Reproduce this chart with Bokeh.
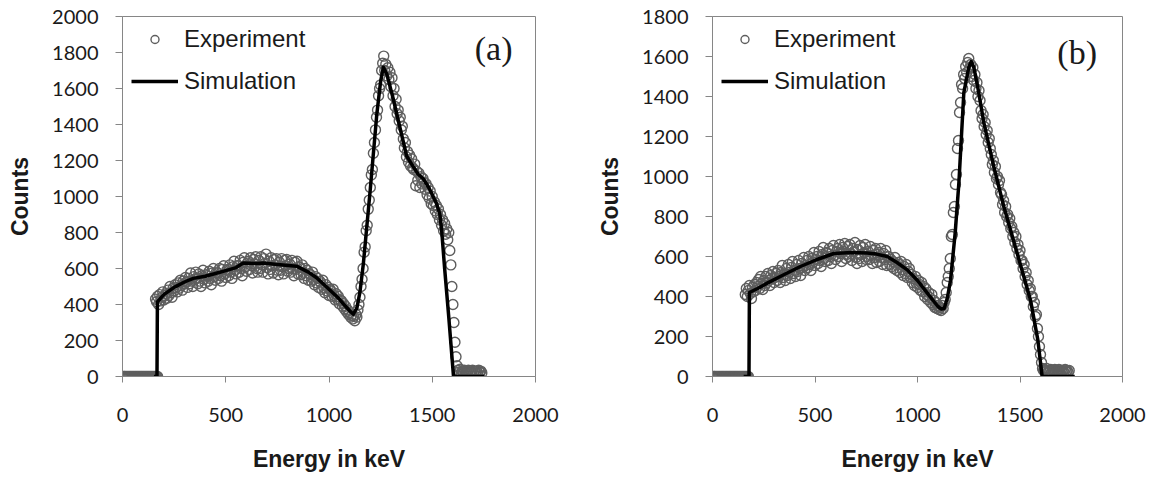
from bokeh.plotting import figure
from bokeh.models import Legend, LegendItem, FixedTicker, Label, Range1d
from bokeh.layouts import row
from bokeh.embed import file_html
from bokeh.resources import INLINE

# ---------------- data (energies in keV, counts) ----------------
STEP = 5

# Panel (a) experiment
exp_a_zero = [0, 0, 0, 0, 0, 0, 0, 0, 0, 0, 0, 0, 0, 0, 0, 0, 0, 0,
              0, 0, 0, 0, 0, 0, 0, 0, 0, 0, 0, 0, 0, 0, 0, 0, 0]          # 0..170 keV
exp_a_main = [                                                            # 160..1615 keV
    430, 415, 445, 400, 455, 420, 440, 470, 425, 450,
    460, 435, 480, 450, 500, 465, 440, 490, 475, 510,
    495, 470, 520, 490, 535, 505, 480, 530, 515, 550,
    525, 495, 545, 515, 575, 530, 500, 555, 540, 580,
    545, 515, 570, 530, 500, 560, 590, 540, 520, 565,
    560, 530, 585, 545, 510, 575, 600, 555, 535, 580,
    575, 545, 600, 560, 530, 595, 615, 570, 550, 590,
    595, 560, 620, 580, 545, 610, 640, 590, 570, 615,
    615, 580, 645, 600, 560, 635, 660, 610, 585, 630,
    640, 595, 660, 615, 575, 650, 625, 665, 600, 580,
    645, 600, 665, 620, 580, 655, 630, 680, 605, 570,
    640, 595, 660, 615, 575, 650, 620, 655, 590, 565,
    635, 590, 655, 610, 570, 645, 615, 650, 585, 600,
    625, 580, 645, 600, 560, 635, 595, 640, 570, 610,
    605, 565, 620, 580, 545, 600, 560, 590, 535, 570,
    565, 530, 580, 540, 510, 555, 520, 545, 495, 530,
    520, 485, 535, 495, 465, 510, 475, 495, 450, 485,
    475, 445, 485, 450, 425, 460, 430, 445, 405, 425,
    420, 390, 405, 375, 390, 360, 370, 345, 355, 330,
    340, 320, 335, 310, 345, 330, 370, 400, 440, 500,
    540, 600, 690, 720, 810, 840, 930, 980, 1050, 1120,
    1150, 1240, 1300, 1370, 1440, 1480, 1560, 1600, 1620, 1700,
    1740, 1780, 1700, 1735, 1670, 1715, 1650, 1690, 1610, 1660,
    1560, 1600, 1500, 1540, 1460, 1480, 1420, 1440, 1370, 1390,
    1320, 1270, 1300, 1220, 1250, 1190, 1230, 1170, 1210, 1160,
    1150, 1180, 1060, 1140, 1090, 1130, 1050, 1110, 1070, 1100,
    1080, 1040, 1070, 1010, 1050, 990, 1030, 960, 1000, 950,
    970, 920, 950, 900, 930, 870, 900, 840, 870, 810,
    850, 790, 820, 760, 800, 700, 620, 500, 400, 300,
    190, 110,
]
exp_a_tail = [60, 35, 25, 40, 20, 30, 25, 35, 20, 30, 25, 35, 20,
              30, 25, 35, 20, 30, 25, 30, 20, 35, 25, 30, 20]            # 1620..1740 keV

# Panel (a) simulation
sim_a_energy = [152, 167, 169, 200, 250, 300, 343, 400, 450, 500, 550, 585, 650, 682,
                750, 843, 900, 940, 1000, 1050, 1080, 1100, 1118, 1135, 1150, 1166,
                1199, 1231, 1250, 1263, 1280, 1311, 1340, 1376, 1400, 1431, 1457,
                1485, 1521, 1537, 1545, 1560, 1580, 1603, 1753]
sim_a_counts = [0, 0, 415, 455, 495, 525, 545, 557, 572, 588, 605, 630, 628, 630,
                622, 613, 580, 549, 485, 430, 390, 365, 346, 380, 470, 623,
                1028, 1451, 1640, 1718, 1680, 1543, 1400, 1225, 1180, 1125, 1098,
                1046, 960, 900, 820, 600, 330, 0, 0]

# Panel (b) experiment
exp_b_zero = [0, 0, 0, 0, 0, 0, 0, 0, 0, 0, 0, 0, 0, 0, 0, 0, 0, 0,
              0, 0, 0, 0, 0, 0, 0, 0, 0, 0, 0, 0, 0, 0, 0, 0, 0, 0]       # 0..175 keV
exp_b_main = [                                                            # 160..1615 keV
    410, 440, 400, 430, 455, 415, 390, 445, 425, 460,
    430, 470, 450, 485, 440, 500, 465, 435, 480, 455,
    500, 470, 515, 480, 455, 505, 490, 525, 470, 495,
    515, 480, 530, 500, 470, 520, 555, 495, 510, 480,
    540, 505, 560, 520, 490, 545, 575, 515, 530, 500,
    560, 525, 580, 540, 505, 565, 545, 595, 530, 555,
    580, 545, 600, 560, 530, 590, 570, 620, 555, 585,
    600, 565, 625, 580, 550, 610, 645, 590, 575, 620,
    615, 580, 640, 600, 565, 630, 655, 605, 585, 625,
    640, 600, 660, 615, 575, 645, 625, 665, 590, 610,
    650, 600, 660, 615, 580, 640, 625, 670, 595, 565,
    635, 590, 655, 610, 575, 645, 620, 660, 585, 600,
    625, 585, 650, 605, 565, 630, 595, 640, 570, 610,
    620, 575, 640, 595, 560, 615, 585, 630, 555, 600,
    600, 560, 585, 550, 575, 540, 595, 560, 530, 570,
    560, 520, 575, 535, 505, 550, 515, 560, 495, 525,
    540, 495, 510, 470, 490, 455, 500, 465, 445, 480,
    460, 430, 470, 425, 450, 400, 440, 410, 385, 420,
    395, 370, 410, 360, 380, 345, 370, 340, 355, 335,
    345, 330, 355, 340, 370, 385, 420, 470, 500, 540,
    590, 700, 710, 820, 850, 960, 1010, 1140, 1180, 1320,
    1370, 1460, 1440, 1510, 1490, 1550, 1520, 1570, 1590, 1540,
    1560, 1500, 1545, 1480, 1510, 1440, 1470, 1400, 1430, 1380,
    1330, 1290, 1310, 1250, 1270, 1210, 1230, 1170, 1190, 1140,
    1110, 1060, 1080, 1020, 1050, 990, 1000, 960, 980, 920,
    910, 860, 880, 820, 850, 800, 810, 770, 790, 740,
    750, 700, 720, 670, 700, 640, 660, 610, 630, 580,
    580, 540, 560, 500, 520, 460, 480, 430, 440, 400,
    400, 350, 370, 300, 310, 240, 200, 150, 110, 70,
    40, 30,
]
exp_b_tail = [35, 25, 40, 20, 30, 25, 35, 20, 30, 25, 35, 20, 30,
              25, 35, 20, 30, 25, 30, 20, 35, 25, 30, 20, 30]            # 1620..1740 keV

# Panel (b) simulation
sim_b_energy = [152, 178, 180, 220, 267, 350, 429, 510, 592, 680, 754, 800, 852, 900,
                950, 1000, 1048, 1080, 1100, 1115, 1130, 1145, 1161, 1184, 1202, 1226,
                1250, 1262, 1275, 1295, 1324, 1372, 1421, 1486, 1551, 1587, 1608, 1767]
sim_b_counts = [0, 0, 420, 440, 467, 510, 550, 585, 615, 620, 617, 612, 600, 570,
                533, 480, 417, 375, 350, 338, 340, 390, 480, 720, 970, 1420,
                1545, 1575, 1545, 1440, 1267, 1050, 850, 617, 383, 183, 0, 0]

x_ticks = [0, 500, 1000, 1500, 2000]
y_ticks_a = [0, 200, 400, 600, 800, 1000, 1200, 1400, 1600, 1800, 2000]
y_ticks_b = [0, 200, 400, 600, 800, 1000, 1200, 1400, 1600, 1800]
panel_tags = ["(a)", "(b)"]
legend_labels = ["Experiment", "Simulation"]
x_title = "Energy in keV"
y_title = "Counts"


def energies(start, n):
    return [start + STEP * i for i in range(n)]


AXIS_GREY = "#868686"
TEXT = "#1a1a1a"
HEIGHT = 478


def make_panel(zero, main, tail, sx, sy, yticks, ymax, tag, tag_pos,
               width, bl, br, bt, bb):
    ex = energies(0, len(zero)) + energies(160, len(main)) + energies(1620, len(tail))
    ey = zero + main + tail
    p = figure(width=width, height=HEIGHT, output_backend="svg", toolbar_location=None,
               x_range=Range1d(0, 2000), y_range=Range1d(0, ymax),
               min_border_left=bl, min_border_right=br,
               min_border_top=bt, min_border_bottom=bb)
    p.outline_line_color = AXIS_GREY
    p.outline_line_width = 1
    p.xgrid.visible = False
    p.ygrid.visible = False
    p.background_fill_color = "white"
    p.border_fill_color = "white"

    r_exp = p.scatter(ex, ey, marker="circle", size=10, fill_color=None,
                      line_color="#5e5e5e", line_width=1.4)
    r_sim = p.line(sx, sy, line_color="black", line_width=3.5, line_join="round")

    p.xaxis.ticker = FixedTicker(ticks=x_ticks)
    p.yaxis.ticker = FixedTicker(ticks=yticks)
    p.xaxis.axis_label = x_title
    p.yaxis.axis_label = y_title
    for ax in (p.xaxis[0], p.yaxis[0]):
        ax.axis_line_color = AXIS_GREY
        ax.major_tick_line_color = AXIS_GREY
        ax.minor_tick_line_color = None
        ax.major_tick_in = 0
        ax.major_label_text_font = "Lato"
        ax.major_label_text_font_size = "20px"
        ax.major_label_text_color = TEXT
        ax.axis_label_text_font = "Liberation Sans"
        ax.axis_label_text_font_style = "bold"
        ax.axis_label_text_font_size = "23px"
        ax.axis_label_text_color = TEXT
    p.xaxis.major_tick_out = 6
    p.xaxis.major_label_standoff = 25
    p.xaxis.axis_label_standoff = 21
    p.yaxis.major_tick_out = 7
    p.yaxis.major_label_standoff = 17
    p.yaxis.axis_label_standoff = 16

    legend = Legend(items=[LegendItem(label=legend_labels[0], renderers=[r_exp]),
                           LegendItem(label=legend_labels[1], renderers=[r_sim])],
                    location="top_left", margin=9, padding=0, spacing=14,
                    glyph_width=47, glyph_height=20, label_standoff=6,
                    label_text_font="Liberation Sans", label_text_font_size="24px",
                    label_text_color=TEXT, border_line_color=None,
                    background_fill_alpha=0)
    p.add_layout(legend)

    p.add_layout(Label(x=tag_pos[0], y=tag_pos[1], text=tag,
                       text_font="Liberation Serif", text_font_size="34px",
                       text_align="center", text_baseline="middle",
                       text_color=TEXT))
    return p


pa = make_panel(exp_a_zero, exp_a_main, exp_a_tail, sim_a_energy, sim_a_counts,
                y_ticks_a, 2000, panel_tags[0], (1797, 1820),
                width=580, bl=122, br=45, bt=14, bb=102)
pb = make_panel(exp_b_zero, exp_b_main, exp_b_tail, sim_b_energy, sim_b_counts,
                y_ticks_b, 1800, panel_tags[1], (1779, 1620),
                width=574, bl=132, br=32, bt=16, bb=101)

layout = row(pa, pb)
open("out.html", "w").write(file_html(layout, INLINE))
